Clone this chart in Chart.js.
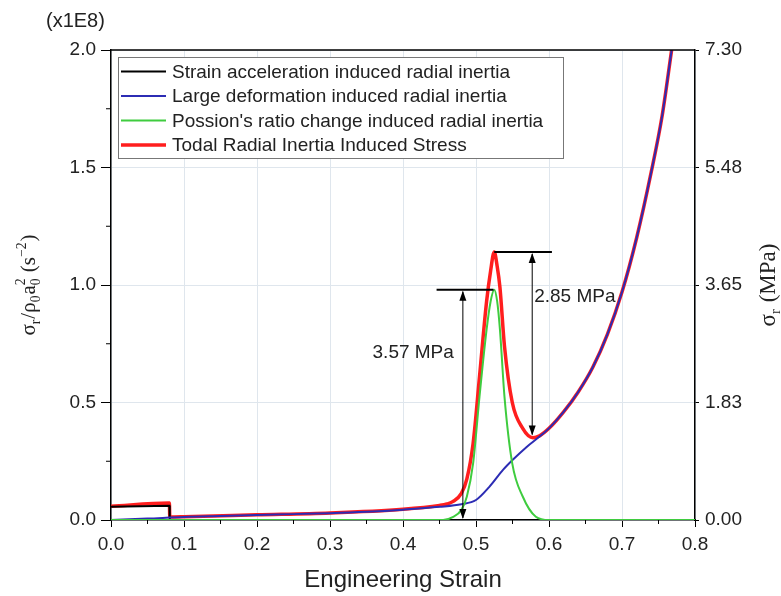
<!DOCTYPE html>
<html>
<head>
<meta charset="utf-8">
<script src="https://cdn.jsdelivr.net/npm/chart.js@4.4.1/dist/chart.umd.min.js"></script>
<style>
  body { margin: 0; background: #fff; }
  #wrap { width: 781px; height: 596px; }
</style>
</head>
<body>
<div id="wrap"><canvas id="plot" width="781" height="596"></canvas></div>
<script>
// axis ticks
const xTickValues = [0, 0.1, 0.2, 0.3, 0.4, 0.5, 0.6, 0.7, 0.8];
const leftTickValues = [0, 0.5, 1.0, 1.5, 2.0];
const rightTickValues = [0, 1.825, 3.65, 5.475, 7.3];
const rightTickLabels = ['0.00', '1.83', '3.65', '5.48', '7.30'];

// series (strain vs sigma_r / rho0 a0^2, in 1E8 s^-2)
const seriesNames = [
  'Strain acceleration induced radial inertia',
  'Large deformation induced radial inertia',
  "Possion's ratio change induced radial inertia",
  'Todal Radial Inertia Induced Stress'
];

const accelStrain = [0, 0.08, 0.0805, 0.8];
const accelValues = [0.056, 0.061, 0, 0];

const largeDefStrain = [0, 0.05, 0.1, 0.15, 0.2, 0.25, 0.3, 0.35, 0.4, 0.45, 0.48, 0.5, 0.518, 0.537, 0.55, 0.569, 0.587, 0.6, 0.62, 0.64, 0.66, 0.68, 0.7, 0.72, 0.74, 0.755, 0.768];
const largeDefValues = [0, 0.006, 0.013, 0.017, 0.021, 0.025, 0.029, 0.035, 0.044, 0.056, 0.067, 0.085, 0.14, 0.213, 0.255, 0.31, 0.355, 0.39, 0.46, 0.545, 0.65, 0.79, 0.97, 1.2, 1.48, 1.72, 2.0];

const poissonStrain = [0, 0.455, 0.468, 0.48, 0.4875, 0.496, 0.5048, 0.5145, 0.52, 0.525, 0.529, 0.5328, 0.539, 0.5497, 0.564, 0.582, 0.6, 0.8];
const poissonValues = [0, 0, 0.012, 0.043, 0.1, 0.24, 0.525, 0.81, 0.93, 0.98, 0.93, 0.81, 0.525, 0.24, 0.1, 0.014, 0, 0];

const totalStrain = [0, 0.08, 0.0805, 0.1, 0.2, 0.3, 0.4, 0.45, 0.46, 0.468, 0.48, 0.4875, 0.496, 0.5048, 0.5145, 0.52, 0.525, 0.529, 0.5328, 0.539, 0.5497, 0.564, 0.578, 0.587, 0.6, 0.62, 0.64, 0.66, 0.68, 0.7, 0.72, 0.74, 0.755, 0.768];
const totalValues = [0.058, 0.072, 0.013, 0.014, 0.022, 0.03, 0.046, 0.062, 0.068, 0.078, 0.113, 0.175, 0.325, 0.61, 0.93, 1.06, 1.14, 1.08, 0.99, 0.74, 0.5, 0.39, 0.35, 0.358, 0.39, 0.46, 0.545, 0.65, 0.79, 0.97, 1.2, 1.48, 1.72, 2.0];

// peak markers
const markerFrom = [0.446, 0.525];
const markerTo = [0.524, 0.604];
const markerLevel = [0.98, 1.14];
const arrowStrain = [0.482, 0.577];
const arrowBottom = [0, 0.355];
const markerLabels = ['3.57 MPa', '2.85 MPa'];
const markerLabelLevel = [0.71, 0.95];

const seriesColors = ['#000000', '#2c2cb4', '#3fcc3f', '#ff1e1e'];
const seriesWidths = [2, 2, 2, 3.5];

const sansFont = '"Liberation Sans", Arial, sans-serif';
const serifFont = '"Liberation Serif", "Times New Roman", serif';

function points(xs, ys) {
  return xs.map((x, i) => ({ x: x, y: ys[i] }));
}

function drawRich(ctx, segs, cx, cy, size) {
  const small = size * 0.65;
  const widthOf = (s) => {
    if (s[1] === 'n') { ctx.font = size + 'px ' + serifFont; return ctx.measureText(s[0]).width; }
    ctx.font = small + 'px ' + serifFont;
    let w = ctx.measureText(s[0]).width;
    if (s[2]) w = Math.max(w, ctx.measureText(s[2]).width);
    return w + 1;
  };
  let total = 0;
  segs.forEach(s => total += widthOf(s));
  let x = cx - total / 2;
  const base = cy + size * 0.33;
  segs.forEach(s => {
    const w = widthOf(s);
    if (s[1] === 'n') {
      ctx.font = size + 'px ' + serifFont;
      ctx.fillText(s[0], x, base);
    } else if (s[1] === 'sub') {
      ctx.font = small + 'px ' + serifFont;
      ctx.fillText(s[0], x, base + size * 0.22);
      if (s[2]) ctx.fillText(s[2], x, base - size * 0.45);
    } else {
      ctx.font = small + 'px ' + serifFont;
      ctx.fillText(s[0], x, base - size * 0.42);
    }
    x += w;
  });
}

function arrowHead(ctx, x, y, dir) {
  ctx.beginPath();
  ctx.moveTo(x, y);
  ctx.lineTo(x - 3.5, y + dir * 10);
  ctx.lineTo(x + 3.5, y + dir * 10);
  ctx.closePath();
  ctx.fill();
}

const decorations = {
  id: 'decorations',
  afterDatasetsDraw(chart) {
    const { ctx, chartArea: a, scales } = chart;
    const xs = scales.x, ys = scales.y;
    ctx.save();

    // top frame line
    ctx.strokeStyle = '#000';
    ctx.lineWidth = 1.5;
    ctx.beginPath();
    ctx.moveTo(a.left, a.top);
    ctx.lineTo(a.right, a.top);
    ctx.stroke();

    // minor ticks
    ctx.lineWidth = 1;
    for (let v = 0.05; v < 0.8; v += 0.1) {
      const px = xs.getPixelForValue(v);
      ctx.beginPath(); ctx.moveTo(px, a.bottom); ctx.lineTo(px, a.bottom + 4); ctx.stroke();
    }
    for (let v = 0.25; v < 2; v += 0.5) {
      const py = ys.getPixelForValue(v);
      ctx.beginPath(); ctx.moveTo(a.left, py); ctx.lineTo(a.left - 5, py); ctx.stroke();
    }

    // peak markers
    ctx.fillStyle = '#000';
    markerLevel.forEach((lvl, i) => {
      const py = ys.getPixelForValue(lvl);
      ctx.lineWidth = 2;
      ctx.beginPath();
      ctx.moveTo(xs.getPixelForValue(markerFrom[i]), py);
      ctx.lineTo(xs.getPixelForValue(markerTo[i]), py);
      ctx.stroke();
      const ax = xs.getPixelForValue(arrowStrain[i]);
      const pb = ys.getPixelForValue(arrowBottom[i]);
      ctx.lineWidth = 1;
      ctx.beginPath();
      ctx.moveTo(ax, py + 2);
      ctx.lineTo(ax, pb - 2);
      ctx.stroke();
      arrowHead(ctx, ax, py + 1, 1);
      arrowHead(ctx, ax, pb - 1, -1);
      ctx.font = '19px ' + sansFont;
      ctx.fillStyle = '#222';
      ctx.textBaseline = 'middle';
      const ly = ys.getPixelForValue(markerLabelLevel[i]);
      if (i === 0) { ctx.textAlign = 'right'; ctx.fillText(markerLabels[i], ax - 9, ly); }
      else { ctx.textAlign = 'left'; ctx.fillText(markerLabels[i], ax + 2, ly); }
      ctx.fillStyle = '#000';
    });

    // legend box
    const lx = a.left + 7, ly0 = a.top + 7, lw = 445, lh = 101;
    ctx.fillStyle = '#fff';
    ctx.fillRect(lx, ly0, lw, lh);
    ctx.strokeStyle = '#777';
    ctx.lineWidth = 1;
    ctx.strokeRect(lx + 0.5, ly0 + 0.5, lw, lh);
    ctx.font = '19px ' + sansFont;
    ctx.textAlign = 'left';
    ctx.textBaseline = 'middle';
    seriesNames.forEach((name, i) => {
      const ry = ly0 + 14.5 + i * 24.5;
      ctx.strokeStyle = seriesColors[i];
      ctx.lineWidth = seriesWidths[i];
      ctx.beginPath(); ctx.moveTo(lx + 3, ry); ctx.lineTo(lx + 48, ry); ctx.stroke();
      ctx.fillStyle = '#222';
      ctx.fillText(name, lx + 54, ry + 1);
    });

    // titles
    ctx.fillStyle = '#222';
    ctx.font = '20px ' + sansFont;
    ctx.textAlign = 'left';
    ctx.fillText('(x1E8)', 46, 21);
    ctx.font = '24px ' + sansFont;
    ctx.textAlign = 'center';
    ctx.fillText('Engineering Strain', (a.left + a.right) / 2, 580);

    ctx.textAlign = 'left';
    ctx.textBaseline = 'alphabetic';
    ctx.save();
    ctx.translate(28, (a.top + a.bottom) / 2);
    ctx.rotate(-Math.PI / 2);
    drawRich(ctx, [['σ', 'n'], ['r', 'sub'], ['/ρ', 'n'], ['0', 'sub'], ['a', 'n'], ['0', 'sub', '2'], [' (s', 'n'], ['−2', 'sup'], [')', 'n']], 0, 0, 21);
    ctx.restore();
    ctx.save();
    ctx.translate(767, (a.top + a.bottom) / 2);
    ctx.rotate(-Math.PI / 2);
    drawRich(ctx, [['σ', 'n'], ['r', 'sub'], [' (MPa)', 'n']], 0, 0, 23);
    ctx.restore();

    ctx.restore();
  }
};

const ctx = document.getElementById('plot').getContext('2d');
new Chart(ctx, {
  type: 'line',
  data: {
    datasets: [
      { label: seriesNames[2], data: points(poissonStrain, poissonValues), borderColor: seriesColors[2], borderWidth: seriesWidths[2], cubicInterpolationMode: 'monotone' },
      { label: seriesNames[1], data: points(largeDefStrain, largeDefValues), borderColor: seriesColors[1], borderWidth: seriesWidths[1], cubicInterpolationMode: 'monotone' },
      { label: seriesNames[0], data: points(accelStrain, accelValues), borderColor: seriesColors[0], borderWidth: seriesWidths[0], tension: 0 },
      { label: seriesNames[3], data: points(totalStrain, totalValues), borderColor: seriesColors[3], borderWidth: seriesWidths[3], cubicInterpolationMode: 'monotone' }
    ]
  },
  options: {
    responsive: false,
    animation: false,
    events: [],
    elements: { point: { radius: 0 } },
    layout: { padding: { top: 50, left: 0, right: 0, bottom: 0 } },
    plugins: { legend: { display: false }, tooltip: { enabled: false } },
    scales: {
      x: {
        type: 'linear',
        min: 0, max: 0.8,
        afterBuildTicks: s => { s.ticks = xTickValues.map(v => ({ value: v })); },
        afterFit: s => { s.height = 76; },
        ticks: { callback: v => v.toFixed(1), color: '#222', font: { size: 19, family: sansFont }, padding: 6, maxRotation: 0 },
        grid: { color: '#dfe6ed', lineWidth: 1, tickColor: '#000', tickLength: 7 },
        border: { color: '#000', width: 1.5 }
      },
      y: {
        position: 'left',
        min: 0, max: 2,
        afterBuildTicks: s => { s.ticks = leftTickValues.map(v => ({ value: v })); },
        afterFit: s => { s.width = 111; },
        ticks: { callback: v => v.toFixed(1), color: '#222', font: { size: 19, family: sansFont }, padding: 5 },
        grid: { color: '#dfe6ed', lineWidth: 1, tickColor: '#000', tickLength: 10 },
        border: { color: '#000', width: 1.5 }
      },
      y2: {
        position: 'right',
        min: 0, max: 7.3,
        afterBuildTicks: s => { s.ticks = rightTickValues.map(v => ({ value: v })); },
        afterFit: s => { s.width = 86; },
        ticks: { callback: (v, i) => rightTickLabels[i], color: '#222', font: { size: 19, family: sansFont }, padding: 6 },
        grid: { drawOnChartArea: false, tickColor: '#000', tickLength: 4 },
        border: { color: '#000', width: 1.5 }
      }
    }
  },
  plugins: [decorations]
});
</script>
</body>
</html>
